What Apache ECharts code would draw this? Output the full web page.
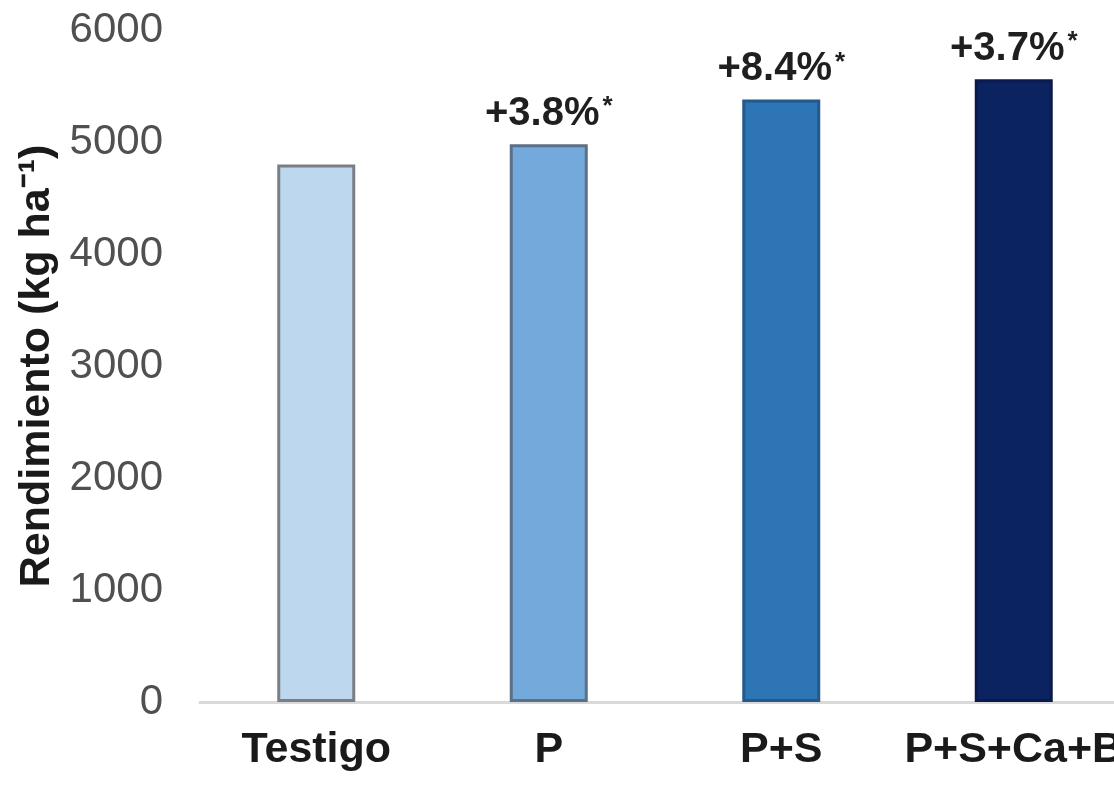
<!DOCTYPE html>
<html>
<head>
<meta charset="utf-8">
<script src="https://cdn.jsdelivr.net/npm/echarts@6/dist/echarts.min.js"></script>
<style>
html,body{margin:0;padding:0;background:#fff;}
#c{width:1114px;height:787px;}
</style>
</head>
<body>
<div id="c"></div>
<script>
const categories = ['Testigo', 'P', 'P+S', 'P+S+Ca+B'];
const yieldValues = [4800, 4980, 5380, 5560];
const barLabels = ['', '+3.8%', '+8.4%', '+3.7%'];
const barColors = ['#bdd7ee', '#74a9dc', '#2e75b6', '#0c2361'];
const borderColors = ['#7a7f86', '#5b6f86', '#24598c', '#0a1a4c'];
const yTicks = [0, 1000, 2000, 3000, 4000, 5000, 6000];

const chart = echarts.init(document.getElementById('c'));
const FONT = '"Liberation Sans", Arial, sans-serif';

chart.setOption({
  backgroundColor: '#ffffff',
  animation: false,
  grid: { left: 200, top: 30, width: 930, bottom: 85, containLabel: false, outerBoundsMode: 'none' },
  xAxis: {
    type: 'category',
    data: categories,
    axisLine: { show: true, lineStyle: { color: '#d9d9d9', width: 3 } },
    axisTick: { show: false },
    axisLabel: {
      interval: 0,
      margin: 27,
      fontFamily: FONT,
      fontWeight: 'bold',
      fontSize: 43,
      color: '#1a1a1a'
    }
  },
  yAxis: {
    type: 'value',
    min: yTicks[0],
    max: yTicks[yTicks.length - 1],
    interval: 1000,
    name: 'Rendimiento (kg ha⁻¹)',
    nameLocation: 'middle',
    nameGap: 138,
    nameTextStyle: {
      fontFamily: FONT,
      fontWeight: 'bold',
      fontSize: 43,
      color: '#1a1a1a'
    },
    axisLine: { show: false },
    axisTick: { show: false },
    splitLine: { show: false },
    axisLabel: {
      margin: 37,
      fontFamily: FONT,
      fontSize: 42,
      color: '#505050',
      formatter: v => String(v)
    }
  },
  series: [{
    type: 'bar',
    barWidth: 78,
    data: yieldValues.map((v, i) => ({
      value: v,
      itemStyle: { color: barColors[i], borderColor: borderColors[i], borderWidth: 3 },
      label: {
        show: barLabels[i] !== '',
        position: 'top',
        distance: 10,
        formatter: '{a|' + barLabels[i] + '}{s|*}',
        rich: {
          a: { fontFamily: FONT, fontWeight: 'bold', fontSize: 40, color: '#1f1f1f' },
          s: { fontFamily: FONT, fontWeight: 'bold', fontSize: 26, color: '#1f1f1f', verticalAlign: 'top', padding: [0, 0, 0, 3] }
        }
      }
    }))
  }]
});
</script>
</body>
</html>
